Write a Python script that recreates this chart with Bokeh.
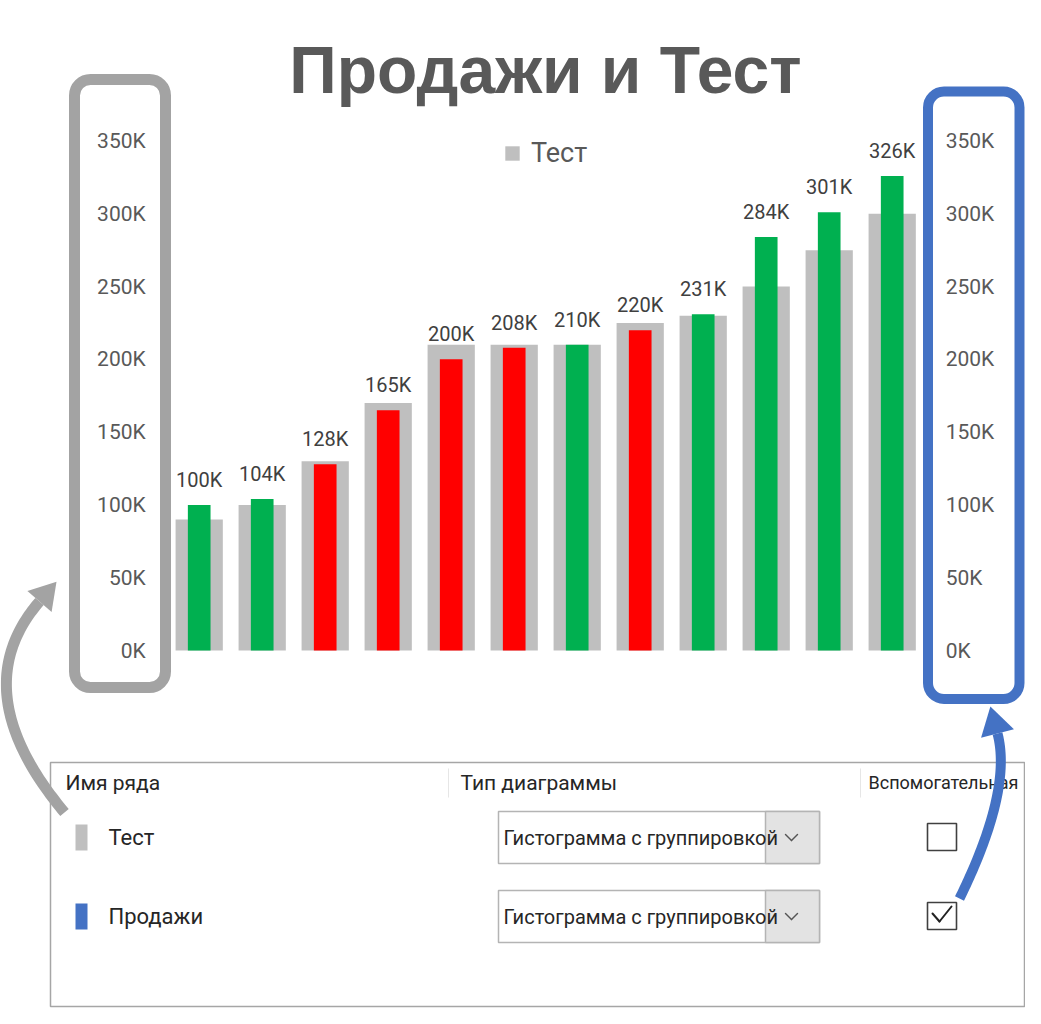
import numpy as np
from bokeh.plotting import figure
from bokeh.models import (Range1d, LinearAxis, FixedTicker, LabelSet, Label,
                          BoxAnnotation, PolyAnnotation, Arrow, ColumnDataSource)
from bokeh.core.properties import value
from bokeh.embed import file_html
from bokeh.resources import INLINE

# ---------------- data ----------------
categories = ["1", "2", "3", "4", "5", "6", "7", "8", "9", "10", "11", "12"]
test = [90000, 100000, 130000, 170000, 210000, 210000, 210000, 225000, 230000, 250000, 275000, 300000]
sales = [100000, 104000, 128000, 165000, 200000, 208000, 210000, 220000, 231000, 284000, 301000, 326000]
tick_values = [0, 50000, 100000, 150000, 200000, 250000, 300000, 350000]
tick_labels = ["0K", "50K", "100K", "150K", "200K", "250K", "300K", "350K"]
series_names = ["Тест", "Продажи"]
title_text = "Продажи и Тест"
header_texts = ["Имя ряда", "Тип диаграммы", "Вспомогательная"]
chart_type_text = "Гистограмма с группировкой"

GRAY = "#bfbfbf"
GREEN = "#00b050"
RED = "#ff0000"
BLUE = "#4472c4"
TXT = "#595959"

sales_colors = [GREEN if s >= t else RED for s, t in zip(sales, test)]
sales_labels = [f"{round(s / 1000)}K" for s in sales]
cat_pos = [i + 0.5 for i in range(len(categories))]

# ---------------- layout (canvas pixel geometry) ----------------
W, H = 1025, 1008
PLOT_L, PLOT_R = 167.2, 923.2          # left / right edge of the bar area
ZERO_Y, TOP_Y, TOP_V = 650.0, 140.5, 350000   # pixel rows of 0 and of TOP_V
n_cat = len(categories)
cat_w = (PLOT_R - PLOT_L) / n_cat
ppu = (ZERO_Y - TOP_Y) / TOP_V
cat_range = Range1d(-PLOT_L / cat_w, (W - PLOT_L) / cat_w)
val_start, val_end = -(H - ZERO_Y) / ppu, ZERO_Y / ppu

p = figure(width=W, height=H, x_range=Range1d(0, W), y_range=Range1d(-H, 0),
           output_backend="svg", toolbar_location=None,
           x_axis_location=None, y_axis_location=None,
           min_border=0, min_border_left=0, min_border_right=0,
           min_border_top=0, min_border_bottom=0)
p.outline_line_color = None
p.xgrid.visible = False
p.ygrid.visible = False
p.background_fill_color = "white"
p.border_fill_color = "white"

p.extra_x_ranges = {"cat": cat_range}
p.extra_y_ranges = {"val": Range1d(val_start, val_end), "val2": Range1d(val_start, val_end)}

src = ColumnDataSource(dict(x=cat_pos, cat=categories, test=test, sales=sales,
                            color=sales_colors, label=sales_labels))

p.vbar(x="x", top="test", width=0.75, source=src, fill_color=GRAY, line_color=None,
       x_range_name="cat", y_range_name="val", legend_label=series_names[0])
p.vbar(x="x", top="sales", width=0.36, source=src, fill_color="color", line_color=None,
       x_range_name="cat", y_range_name="val2")

p.add_layout(LabelSet(x="x", y="sales", text="label", source=src,
                      x_range_name="cat", y_range_name="val2",
                      text_align="center", text_baseline="alphabetic", y_offset=18,
                      text_font=value("Roboto"), text_font_size=value("20px"),
                      text_color="#404040"))

overrides = {v: l for v, l in zip(tick_values, tick_labels)}
for side, rname, loc in (("left", "val", PLOT_L), ("right", "val2", PLOT_R)):
    ax = LinearAxis(y_range_name=rname, fixed_location=loc,
                    ticker=FixedTicker(ticks=tick_values),
                    major_label_overrides=overrides, axis_line_color=None,
                    major_tick_line_color=None, minor_tick_line_color=None,
                    major_tick_out=0, minor_tick_out=0, major_tick_in=0, minor_tick_in=0,
                    major_label_standoff=22, major_label_text_font="Roboto",
                    major_label_text_font_size="21px", major_label_text_color=TXT)
    p.add_layout(ax, side)

lg = p.legend[0]
lg.location = (503, H - 169)
lg.orientation = "horizontal"
lg.border_line_color = None
lg.background_fill_alpha = 0
lg.padding = 0
lg.margin = 0
lg.glyph_width = 18
lg.glyph_height = 18
lg.label_standoff = 10
lg.label_text_font = "Roboto"
lg.label_text_font_size = "27px"
lg.label_text_color = TXT


# ---------------- decorations in canvas pixel coordinates ----------------
def box(l, r, t, b, **kw):
    p.add_layout(BoxAnnotation(left=l, right=r, top=-t, bottom=-b, **kw))


def text(x, y, s, size="20px", color="#262626", **kw):
    p.add_layout(Label(x=x, y=-y, text=s,
                       text_font=kw.pop("font", "Roboto"), text_font_size=size,
                       text_color=color, text_baseline=kw.pop("baseline", "middle"), **kw))


def seg(pts, color="#333333", w=1.5):
    for (x0, y0), (x1, y1) in zip(pts[:-1], pts[1:]):
        p.add_layout(Arrow(x_start=x0, y_start=-y0, x_end=x1, y_end=-y1, end=None,
                           line_color=color, line_width=w, line_cap="round"))


def curved_arrow(p0, p1, p2, w, head_len, head_hw, color):
    p0, p1, p2 = map(np.array, (p0, p1, p2))
    t = np.linspace(0, 1, 80)[:, None]
    pts = (1 - t) ** 2 * p0 + 2 * t * (1 - t) * p1 + t ** 2 * p2
    d = 2 * (1 - t) * (p1 - p0) + 2 * t * (p2 - p1)
    d = d / np.linalg.norm(d, axis=1)[:, None]
    n = np.column_stack([-d[:, 1], d[:, 0]])
    a = pts + n * w / 2
    b = pts - n * w / 2
    poly = np.vstack([a, b[::-1]])
    p.add_layout(PolyAnnotation(xs=poly[:, 0].tolist(), ys=(-poly[:, 1]).tolist(),
                                fill_color=color, fill_alpha=1, line_color=None))
    dd, nn = d[-1], n[-1]
    tip = p2 + dd * head_len
    c1 = p2 + nn * head_hw
    c2 = p2 - nn * head_hw
    p.add_layout(PolyAnnotation(xs=[tip[0], c1[0], c2[0]], ys=[-tip[1], -c1[1], -c2[1]],
                                fill_color=color, fill_alpha=1, line_color=None))


# title
text(545, 69, title_text, size="66px", color=TXT, font="Liberation Sans",
     baseline="middle", text_align="center", text_font_style="bold")

# rounded boxes around axes
box(74, 165, 79, 687, fill_alpha=0, line_color="#a3a3a3", line_width=11, line_alpha=1,
    border_radius=16)
box(927.5, 1019, 91, 698.5, fill_alpha=0, line_color=BLUE, line_width=10, line_alpha=1,
    border_radius=16)

# bottom dialog panel
box(50, 1024, 762, 1006, fill_color="white", fill_alpha=1, line_color="#a6a6a6",
    line_width=1.5, line_alpha=1)
box(447.5, 448.5, 768, 797, fill_color="#e6e6e6", fill_alpha=1, line_color=None)
box(859.5, 860.5, 768, 797, fill_color="#e6e6e6", fill_alpha=1, line_color=None)
text(65, 782, header_texts[0], size="21px")
text(460, 782, header_texts[1], size="21px")
text(868, 782, header_texts[2], size="18px")

row_y = [837, 916]
marker_colors = [GRAY, BLUE]
for yc, name, mc, checked in zip(row_y, series_names, marker_colors, [False, True]):
    box(75, 87, yc - 13, yc + 13, fill_color=mc, fill_alpha=1, line_color=None)
    text(108, yc, name, size="22px")
    box(498, 819, yc - 26, yc + 26, fill_color="white", fill_alpha=1, line_color="#b4b4b4",
        line_width=1.5, line_alpha=1)
    box(765, 819, yc - 26, yc + 26, fill_color="#e3e3e3", fill_alpha=1, line_color="#b4b4b4",
        line_width=1.5, line_alpha=1)
    text(503, yc, chart_type_text, size="20px")
    seg([(785, yc - 3), (791, yc + 3), (797, yc - 3)], color="#555555", w=1.4)
    box(927, 956, yc - 14, yc + 13, fill_alpha=0, line_color="#404040", line_width=1.6,
        line_alpha=1)
    if checked:
        seg([(932, yc - 3), (939, yc + 5), (951, yc - 10)], color="#222222", w=2)

# curved arrows
curved_arrow((64, 812), (-38, 690), (39, 601), 11, 26, 16, "#a3a3a3")
curved_arrow((959, 898), (1012, 790), (997, 733), 10, 28, 17, BLUE)

open("out.html", "w").write(file_html(p, INLINE))
